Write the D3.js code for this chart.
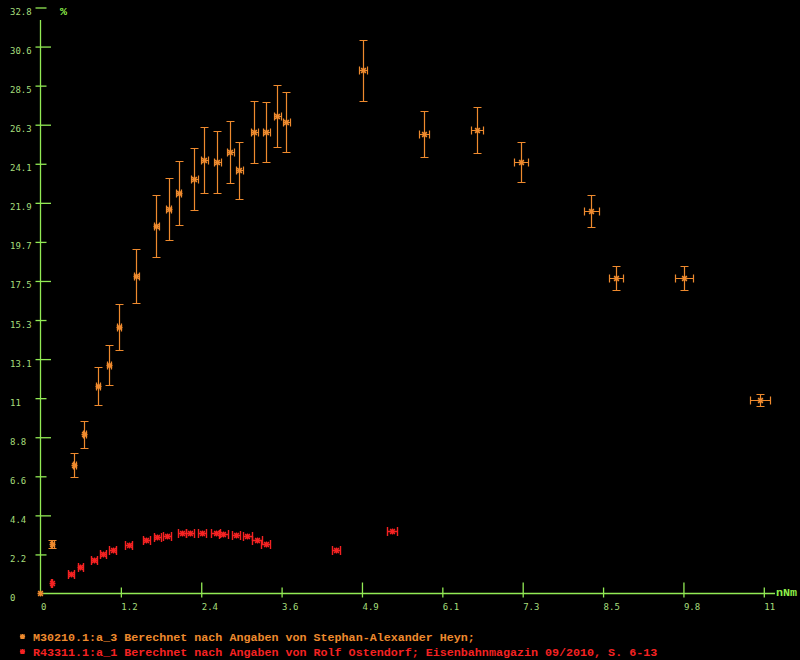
<!DOCTYPE html>
<html>
<head>
<meta charset="utf-8">
<script src="https://cdn.jsdelivr.net/npm/d3@7"></script>
<style>
  html, body { margin: 0; padding: 0; background: #000; }
  svg { display: block; }
</style>
</head>
<body>
<svg id="chart" width="800" height="660"></svg>
<script>
// ---------- data ----------
const xMax = 11;
const yMax = 32.8;
const xTickLabels = ["0", "1.2", "2.4", "3.6", "4.9", "6.1", "7.3", "8.5", "9.8", "11"];
const yTickLabels = ["0", "2.2", "4.4", "6.6", "8.8", "11", "13.1", "15.3", "17.5", "19.7", "21.9", "24.1", "26.3", "28.5", "30.6", "32.8"];

const seriesNames = [
  "M30210.1:a_3 Berechnet nach Angaben von Stephan-Alexander Heyn;",
  "R43311.1:a_1 Berechnet nach Angaben von Rolf Ostendorf; Eisenbahnmagazin 09/2010, S. 6-13"
];

// series 1 (orange)
const orangeX    = [0, 0.187, 0.52, 0.674, 0.877, 1.054, 1.206, 1.465, 1.769, 1.957, 2.109, 2.346, 2.499, 2.696, 2.894, 3.031, 3.259, 3.441, 3.609, 3.745, 4.917, 5.844, 6.65, 7.319, 8.384, 8.764, 9.798, 10.954];
const orangeY    = [0, 2.73, 7.15, 8.88, 11.59, 12.76, 14.91, 17.74, 20.56, 21.48, 22.37, 23.17, 24.22, 24.12, 24.68, 23.66, 25.79, 25.79, 26.70, 26.35, 29.26, 25.69, 25.90, 24.12, 21.36, 17.61, 17.61, 10.79];
const orangeYErr = [0, 0.21, 0.67, 0.77, 1.07, 1.11, 1.29, 1.51, 1.74, 1.74, 1.80, 1.74, 1.85, 1.74, 1.74, 1.58, 1.74, 1.68, 1.74, 1.68, 1.70, 1.29, 1.29, 1.12, 0.90, 0.67, 0.67, 0.34];
const orangeXErr = [0, 0.02, 0.02, 0.02, 0.03, 0.03, 0.03, 0.04, 0.04, 0.04, 0.04, 0.05, 0.05, 0.05, 0.05, 0.05, 0.05, 0.05, 0.05, 0.05, 0.06, 0.076, 0.09, 0.106, 0.11, 0.106, 0.137, 0.152];

// series 2 (red)
const redX    = [0.178, 0.471, 0.613, 0.816, 0.963, 1.105, 1.349, 1.617, 1.784, 1.936, 2.154, 2.281, 2.468, 2.672, 2.788, 2.98, 3.153, 3.30, 3.432, 4.501, 5.357];
const redY    = [0.54, 1.05, 1.44, 1.83, 2.18, 2.41, 2.67, 2.97, 3.15, 3.21, 3.34, 3.34, 3.34, 3.34, 3.28, 3.25, 3.19, 2.97, 2.74, 2.41, 3.47];
const redXErr = [0.01, 0.04, 0.04, 0.045, 0.045, 0.05, 0.05, 0.055, 0.055, 0.06, 0.06, 0.06, 0.06, 0.065, 0.065, 0.065, 0.07, 0.07, 0.07, 0.06, 0.076];
const redYErr = redX.map(() => 0);

// ---------- style ----------
const axisColor = "#92ea54";
const labelColor = "#a6de7c";
const titleColor = "#8ff04a";
const orange = "#ee8a2e";
const red = "#f52222";

const svg = d3.select("#chart");
svg.append("rect").attr("width", 800).attr("height", 660).attr("fill", "#000");

const x = d3.scaleLinear().domain([0, xMax]).range([40, 763.3]);
const y = d3.scaleLinear().domain([0, yMax]).range([593, 7]);

const xTickVals = d3.range(xTickLabels.length).map(i => i * xMax / (xTickLabels.length - 1));
const yTickVals = d3.range(yTickLabels.length).map(i => i * yMax / (yTickLabels.length - 1));

// axis lines
svg.append("line").attr("x1", 40.5).attr("x2", 40.5).attr("y1", 20).attr("y2", 593.5)
  .attr("stroke", axisColor).attr("stroke-width", 1.3);
svg.append("line").attr("x1", 40).attr("x2", 775).attr("y1", 593.5).attr("y2", 593.5)
  .attr("stroke", axisColor).attr("stroke-width", 1.3);

// x axis
const xAxis = d3.axisBottom(x).tickValues(xTickVals).tickFormat((d, i) => xTickLabels[i]);
const gx = svg.append("g").attr("transform", "translate(0.5,593.5)").call(xAxis);
gx.select(".domain").remove();
gx.selectAll(".tick line")
  .attr("stroke", axisColor).attr("stroke-width", 1.3)
  .attr("y1", (d, i) => (i % 2 === 0 ? -11 : -6)).attr("y2", 4);
gx.selectAll(".tick text")
  .attr("fill", labelColor).attr("font-family", "DejaVu Sans Mono, monospace").attr("font-size", 9)
  .attr("text-anchor", "start").attr("x", 0).attr("y", 16).attr("dy", null);
gx.selectAll(".tick").filter((d, i) => i === 0).select("line").remove();

// y axis
const yAxis = d3.axisLeft(y).tickValues(yTickVals).tickFormat((d, i) => yTickLabels[i]);
const gy = svg.append("g").attr("transform", "translate(40.5,0.5)").call(yAxis);
gy.select(".domain").remove();
gy.selectAll(".tick line")
  .attr("stroke", axisColor).attr("stroke-width", 1.3)
  .attr("x1", -5).attr("x2", (d, i) => (i % 2 === 0 ? 10.5 : 6));
gy.selectAll(".tick").filter((d, i) => i === 0).select("line").remove();
gy.selectAll(".tick text")
  .attr("fill", labelColor).attr("font-family", "DejaVu Sans Mono, monospace").attr("font-size", 9)
  .attr("text-anchor", "start").attr("x", -30.5).attr("y", 7).attr("dy", null);

// axis titles
svg.append("text").attr("x", 60).attr("y", 15).text("%")
  .attr("fill", titleColor).attr("font-family", "Liberation Mono, monospace").attr("font-weight", "bold").attr("font-size", 11.7);
svg.append("text").attr("x", 776).attr("y", 596).text("nNm")
  .attr("fill", titleColor).attr("font-family", "Liberation Mono, monospace").attr("font-weight", "bold").attr("font-size", 11.7);

// ---------- marks ----------
function star(cx, cy, r) {
  const p = d3.path();
  p.moveTo(cx - r, cy); p.lineTo(cx + r, cy);
  p.moveTo(cx, cy - r); p.lineTo(cx, cy + r);
  p.moveTo(cx - r * 0.8, cy - r * 0.8); p.lineTo(cx + r * 0.8, cy + r * 0.8);
  p.moveTo(cx - r * 0.8, cy + r * 0.8); p.lineTo(cx + r * 0.8, cy - r * 0.8);
  return p.toString();
}

function drawSeries(xs, ys, xe, ye, color, cap, sw) {
  const data = xs.map((v, i) => ({ x: v, y: ys[i], xe: xe[i], ye: ye[i] }));
  const g = svg.append("g").attr("stroke", color).attr("fill", "none").attr("stroke-width", sw);
  data.forEach(d => {
    const cx = Math.round(x(d.x)) + 0.5, cy = Math.round(y(d.y)) + 0.5;
    const p = d3.path();
    if (d.ye > 0) {
      const t = Math.round(y(d.y + d.ye)) + 0.5, b = Math.round(y(d.y - d.ye)) + 0.5;
      p.moveTo(cx, t); p.lineTo(cx, b);
      p.moveTo(cx - 4, t); p.lineTo(cx + 4, t);
      p.moveTo(cx - 4, b); p.lineTo(cx + 4, b);
    }
    if (d.xe > 0) {
      const l = Math.round(x(d.x - d.xe)) + 0.5, r = Math.round(x(d.x + d.xe)) + 0.5;
      p.moveTo(l, cy); p.lineTo(r, cy);
      p.moveTo(l, cy - cap); p.lineTo(l, cy + cap);
      p.moveTo(r, cy - cap); p.lineTo(r, cy + cap);
    }
    g.append("path").attr("d", p.toString());
    g.append("path").attr("d", star(cx, cy, 3)).attr("stroke-width", 1.4);
  });
}

drawSeries(redX, redY, redXErr, redYErr, red, 4.5, 1.4);
drawSeries(orangeX, orangeY, orangeXErr, orangeYErr, orange, 4, 1.2);

// ---------- legend ----------
const legendColors = [orange, red];
seriesNames.forEach((name, i) => {
  const by = 641 + i * 15;
  svg.append("path").attr("d", star(22.5, by - 4.5, 2.6))
    .attr("stroke", legendColors[i]).attr("stroke-width", 1.4).attr("fill", "none");
  svg.append("text").attr("x", 33).attr("y", by).text(name)
    .attr("fill", legendColors[i]).attr("font-family", "Liberation Mono, monospace")
    .attr("font-weight", "bold").attr("font-size", 11.7).attr("xml:space", "preserve");
});
</script>
</body>
</html>
